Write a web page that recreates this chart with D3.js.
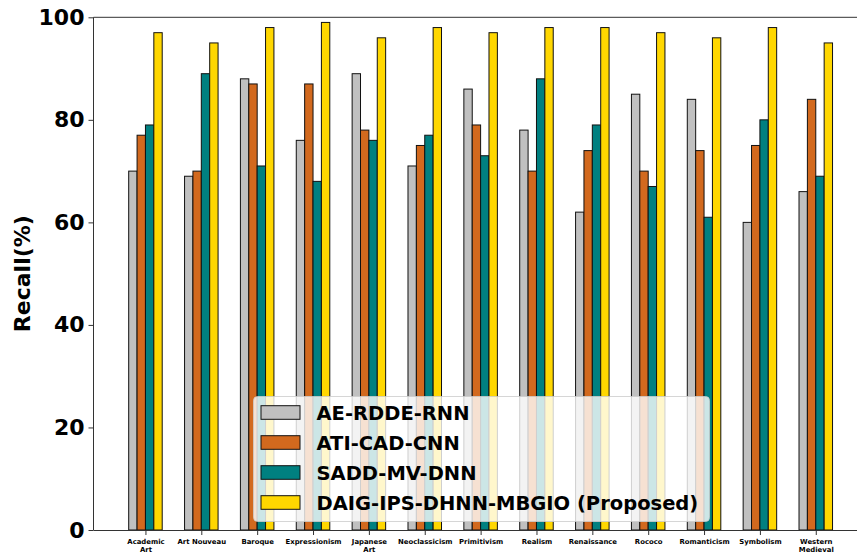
<!DOCTYPE html>
<html>
<head>
<meta charset="utf-8">
<script src="https://cdn.jsdelivr.net/npm/d3@7/dist/d3.min.js"></script>
<style>
  html, body { margin: 0; padding: 0; background: #fff; }
  svg { display: block; font-family: "DejaVu Sans", sans-serif; }
</style>
</head>
<body>
<svg id="chart" width="857" height="553"></svg>
<script>
// Art-style categories (line breaks marked with \n)
const categories = [
  "Academic\nArt", "Art Nouveau", "Baroque", "Expressionism", "Japanese\nArt",
  "Neoclassicism", "Primitivism", "Realism", "Renaissance", "Rococo",
  "Romanticism", "Symbolism", "Western\nMedieval"
];

// Recall (%) per method
const aeRddeRnn   = [70, 69, 88, 76, 89, 71, 86, 78, 62, 85, 84, 60, 66];
const atiCadCnn   = [77, 70, 87, 87, 78, 75, 79, 70, 74, 70, 74, 75, 84];
const saddMvDnn   = [79, 89, 71, 68, 76, 77, 73, 88, 79, 67, 61, 80, 69];
const daigProposed = [97, 95, 98, 99, 96, 98, 97, 98, 98, 97, 96, 98, 95];

const seriesNames = ["AE-RDDE-RNN", "ATI-CAD-CNN", "SADD-MV-DNN", "DAIG-IPS-DHNN-MBGIO (Proposed)"];
const seriesColors = ["#c0c0c0", "#d2691e", "#008080", "#ffd700"];
const seriesValues = [aeRddeRnn, atiCadCnn, saddMvDnn, daigProposed];

const yTicks = [0, 20, 40, 60, 80, 100];
const barWidth = 0.15;

const svg = d3.select("#chart");

// Axes box
const plotLeft = 93.5, plotTop = 17.3, plotBottom = 530;
const x = d3.scaleLinear().domain([-0.93, 12.93]).range([plotLeft, plotLeft + 13.86 * 55.86]);
const y = d3.scaleLinear().domain([0, 100]).range([plotBottom, plotTop]);

// Bars
const offsets = [-1.5, -0.5, 0.5, 1.5];
seriesValues.forEach((vals, si) => {
  svg.append("g")
    .selectAll("rect")
    .data(vals)
    .join("rect")
    .attr("x", (d, i) => x(i + offsets[si] * barWidth - barWidth / 2))
    .attr("width", x(barWidth) - x(0))
    .attr("y", d => y(d))
    .attr("height", d => y(0) - y(d))
    .attr("fill", seriesColors[si])
    .attr("stroke", "#111")
    .attr("stroke-width", 1);
});

// Spines
svg.append("line").attr("x1", plotLeft).attr("x2", plotLeft).attr("y1", plotTop).attr("y2", plotBottom)
  .attr("stroke", "#333").attr("stroke-width", 1);
svg.append("line").attr("x1", plotLeft).attr("x2", 900).attr("y1", plotTop).attr("y2", plotTop)
  .attr("stroke", "#333").attr("stroke-width", 1);

// Y axis
const yAxis = svg.append("g")
  .attr("transform", `translate(${plotLeft},0)`)
  .call(d3.axisLeft(y).tickValues(yTicks).tickSize(5).tickPadding(4).tickFormat(d3.format("d")));
yAxis.select(".domain").remove();
yAxis.selectAll(".tick line").attr("stroke", "#333");
yAxis.selectAll(".tick text")
  .attr("font-family", "DejaVu Sans")
  .attr("font-weight", "bold")
  .attr("font-size", 22)
  .attr("fill", "#000");

// X axis
const xAxis = svg.append("g")
  .attr("transform", `translate(0,${plotBottom})`)
  .call(d3.axisBottom(x).tickValues(d3.range(categories.length)).tickSize(5).tickFormat(""));
xAxis.select(".domain").attr("d", `M${plotLeft},0.5H900`).attr("stroke", "#333");
xAxis.selectAll(".tick line").attr("stroke", "#333");
xAxis.selectAll(".tick").each(function(d) {
  const lines = categories[d].split("\n");
  const t = d3.select(this).append("text")
    .attr("text-anchor", "middle")
    .attr("font-family", "DejaVu Sans")
    .attr("font-weight", "bold")
    .attr("font-size", 6.9)
    .attr("fill", "#000");
  lines.forEach((ln, k) => {
    t.append("tspan").attr("x", 0).attr("y", 14 + k * 8).text(ln);
  });
});

// Y axis title
svg.append("text")
  .attr("transform", `translate(30,${(plotTop + plotBottom) / 2}) rotate(-90)`)
  .attr("text-anchor", "middle")
  .attr("font-family", "DejaVu Sans")
  .attr("font-weight", "bold")
  .attr("font-size", 22)
  .attr("fill", "#000")
  .text("Recall(%)");

// Legend
const legend = svg.append("g");
legend.append("rect")
  .attr("x", 253.5).attr("y", 396.5)
  .attr("width", 456).attr("height", 125)
  .attr("rx", 4).attr("ry", 4)
  .attr("fill", "#fff").attr("fill-opacity", 0.8)
  .attr("stroke", "#ccc").attr("stroke-opacity", 0.8);
seriesNames.forEach((name, i) => {
  const cy = 412.5 + i * 30;
  legend.append("rect")
    .attr("x", 261).attr("y", cy - 6.8)
    .attr("width", 39).attr("height", 13.6)
    .attr("fill", seriesColors[i])
    .attr("stroke", "#111").attr("stroke-width", 1);
  legend.append("text")
    .attr("x", 316.5).attr("y", cy + 7)
    .attr("font-family", "DejaVu Sans")
    .attr("font-weight", "bold")
    .attr("font-size", 19.5)
    .attr("fill", "#000")
    .text(name);
});
</script>
</body>
</html>
